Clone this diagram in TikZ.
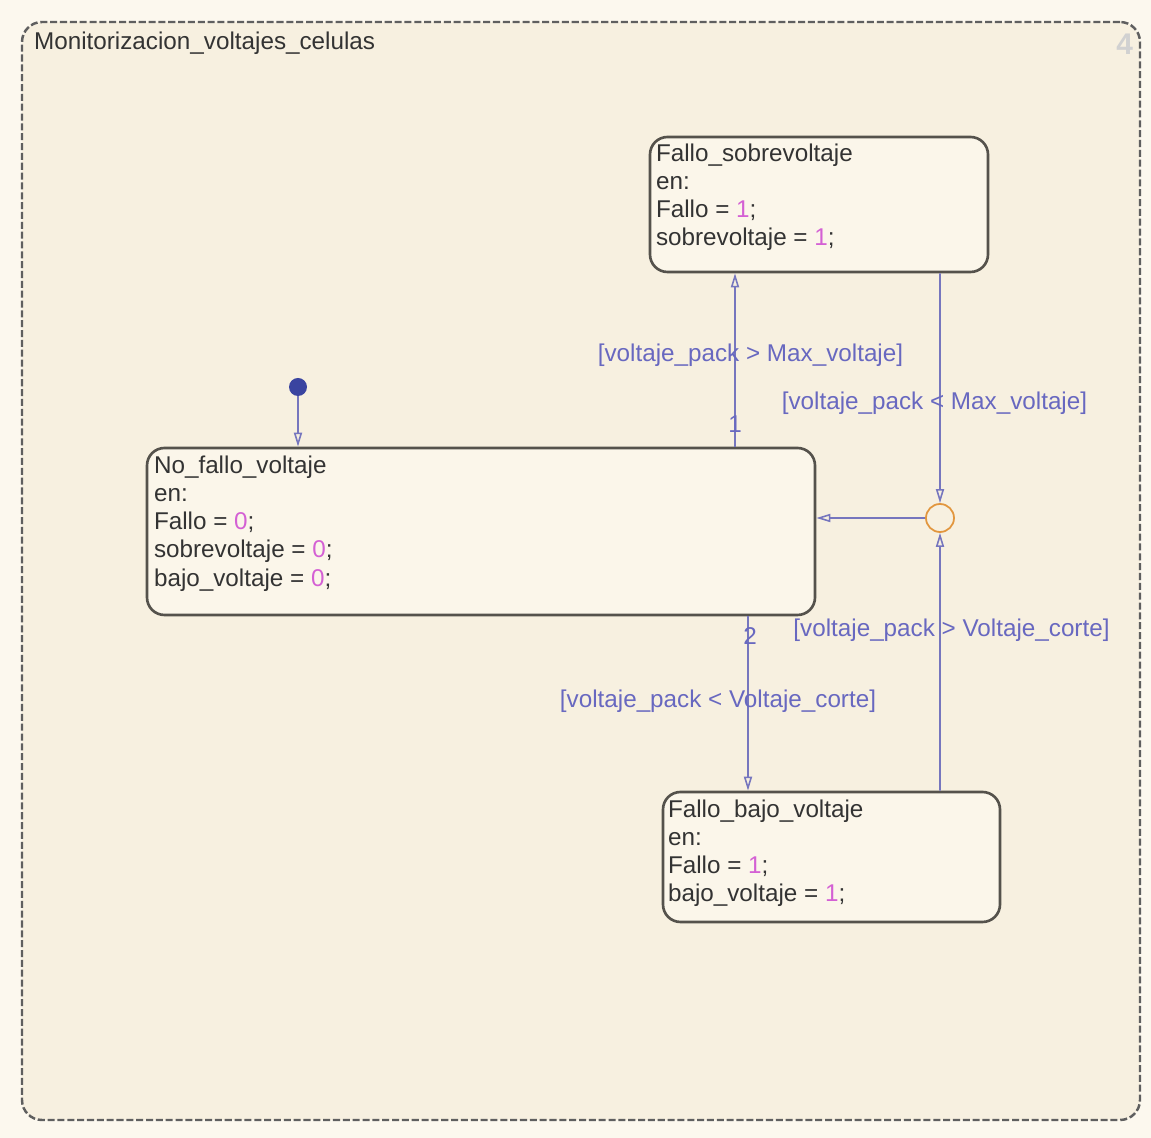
\documentclass[tikz,border=0pt]{standalone}
\usepackage{fontspec}
\setmainfont{Liberation Sans}
\usetikzlibrary{arrows.meta, positioning, shapes.geometric}

\definecolor{fondo}{RGB}{252,248,238}
\definecolor{fondochart}{RGB}{247,240,224}
\definecolor{fondoestado}{RGB}{251,246,234}
\definecolor{borde}{RGB}{85,82,76}
\definecolor{bordechart}{RGB}{95,95,95}
\definecolor{transicion}{RGB}{118,118,190}
\definecolor{azulguarda}{RGB}{104,104,192}
\definecolor{numero}{RGB}{212,96,212}
\definecolor{naranja}{RGB}{226,150,62}
\definecolor{azulinicio}{RGB}{58,68,160}

\tikzstyle{chart} = [rectangle, rounded corners=0.4cm, draw=bordechart, line width=1.4pt, dash pattern=on 4pt off 1.6pt, fill=fondochart]
\tikzstyle{estado} = [rectangle, rounded corners=0.35cm, draw=borde, line width=1.5pt, fill=fondoestado, inner sep=0pt]
\tikzstyle{texto} = [anchor=north west, align=left, inner sep=0pt, text=black!80, font=\fontsize{13.8}{16}\selectfont]
\tikzstyle{guarda} = [text=azulguarda, inner sep=0pt, font=\fontsize{13.8}{16}\selectfont]
\tikzstyle{union} = [circle, draw=naranja, line width=1pt, fill=fondochart, minimum size=0.56cm, inner sep=0pt]
\tikzstyle{inicial} = [circle, fill=azulinicio, minimum size=0.36cm, inner sep=0pt]
\tikzstyle{line} = [draw=transicion, line width=0.9pt, -{Triangle[open, length=8pt, width=4.6pt]}]

\begin{document}
\begin{tikzpicture}[node distance=2cm]

\useasboundingbox[fill=fondo] (0,0) rectangle (23.02,-22.76);

% Chart
\node (chart) [chart, minimum width=22.36cm, minimum height=21.96cm] at (11.62,-11.42) {};
\node (titulo) [texto] at ([xshift=0.26cm, yshift=-0.22cm]chart.north west) {Monitorizacion\_voltajes\_celulas};
\node (numchart) [anchor=north east, inner sep=0pt, text=black!18, font=\fontsize{17}{17}\selectfont\bfseries] at ([xshift=-0.16cm, yshift=-0.26cm]chart.north east) {4};

% States
\node (nf) [estado, minimum width=13.36cm, minimum height=3.34cm] at (9.62,-10.63) {};
\node (fs) [estado, right of=nf, xshift=4.76cm, yshift=6.54cm, minimum width=6.76cm, minimum height=2.7cm] {};
\node (fb) [estado, right of=nf, xshift=5.01cm, yshift=-6.51cm, minimum width=6.74cm, minimum height=2.6cm] {};

\node (nftexto) [texto] at ([xshift=0.16cm, yshift=-0.18cm]nf.north west) {No\_fallo\_voltaje\\ en:\\ Fallo = \textcolor{numero}{0};\\ sobrevoltaje = \textcolor{numero}{0};\\ bajo\_voltaje = \textcolor{numero}{0};};
\node (fstexto) [texto] at ([xshift=0.14cm, yshift=-0.16cm]fs.north west) {Fallo\_sobrevoltaje\\ en:\\ Fallo = \textcolor{numero}{1};\\ sobrevoltaje = \textcolor{numero}{1};};
\node (fbtexto) [texto] at ([xshift=0.12cm, yshift=-0.18cm]fb.north west) {Fallo\_bajo\_voltaje\\ en:\\ Fallo = \textcolor{numero}{1};\\ bajo\_voltaje = \textcolor{numero}{1};};

% Junction and default transition
\node (union) [union, right of=nf, xshift=7.18cm, yshift=0.27cm] {};
\node (inicio) [inicial, above of=nf, xshift=-3.66cm, yshift=0.89cm] {};

% Transitions
\draw [line] (inicio) -- (inicio |- nf.north);
\draw [line] ([xshift=5.08cm]nf.north) -- node[guarda, pos=0.13] {1} node[guarda, pos=0.53, xshift=0.31cm] {[voltaje\_pack > Max\_voltaje]} ([xshift=-1.68cm]fs.south);
\draw [line] ([xshift=2.42cm]fs.south) -- node[guarda, pos=0.565, xshift=-0.11cm] {[voltaje\_pack < Max\_voltaje]} (union.north);
\draw [line] ([xshift=2.17cm]fb.north) -- node[guarda, pos=0.623, xshift=0.23cm] {[voltaje\_pack > Voltaje\_corte]} (union.south);
\draw [line] (union.west) -- (union.west -| nf.east);
\draw [line] ([xshift=5.34cm]nf.south) -- node[guarda, pos=0.113, xshift=0.04cm] {2} node[guarda, pos=0.486, xshift=-0.60cm] {[voltaje\_pack < Voltaje\_corte]} ([xshift=-1.67cm]fb.north);

\end{tikzpicture}
\end{document}
